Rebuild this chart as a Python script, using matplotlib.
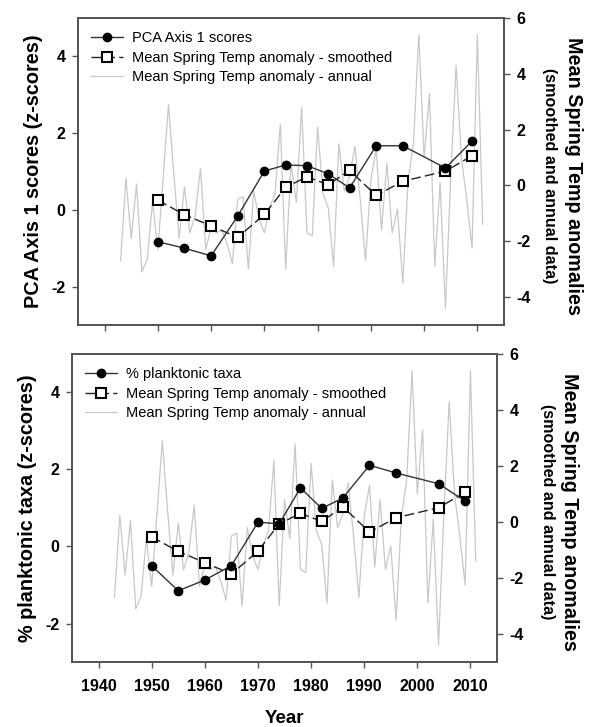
import numpy as np
import matplotlib
matplotlib.use("Agg")
import matplotlib.pyplot as plt
from matplotlib.lines import Line2D

plt.rcParams['font.family'] = ['Liberation Sans', 'DejaVu Sans']
plt.rcParams['axes.unicode_minus'] = False

# sample years for the sediment proxies and smoothed temperature
sample_years = [1950, 1955, 1960, 1965, 1970, 1974, 1978, 1982, 1986, 1991, 1996, 2004, 2009]
pca_scores = [-0.83, -1.0, -1.2, -0.16, 1.01, 1.17, 1.15, 0.94, 0.57, 1.67, 1.67, 1.09, 1.79]
planktonic = [-0.50, -1.15, -0.87, -0.50, 0.63, 0.59, 1.52, 0.99, 1.26, 2.11, 1.91, 1.63, 1.18]
temp_smoothed = [-0.53, -1.05, -1.45, -1.86, -1.04, -0.07, 0.31, 0.02, 0.54, -0.36, 0.15, 0.51, 1.06]

# annual spring temperature anomaly, 1943-2011
annual_years = list(range(1943, 2012))
temp_annual = [
    -2.7, 0.25, -1.9, 0.05, -3.1, -2.65, -0.6,                     # 1943-1949
    -2.3, 0.3, 2.9, 0.4, -1.9, -0.05, -1.7, -1.1, 0.6, -2.3,       # 1950-1959
    -1.5, -1.7, -1.6, -2.1, -2.8, -0.5, -0.4, -3.0, -0.2, -1.2,    # 1960-1969
    -1.7, -0.8, -0.3, 2.2, -3.0, 0.8, -0.6, 2.8, -1.7, -1.8,       # 1970-1979
    2.1, -0.3, -0.8, -2.9, 1.5, -0.2, 0.3, 1.4, -0.5, -2.7,        # 1980-1989
    0.2, 1.3, -1.6, 0.8, -1.7, -0.85, -3.5, 0.2, 1.5, 5.4,         # 1990-1999
    1.0, 3.3, -2.9, 0.1, -4.4, 0.3, 4.3, 1.0, -0.5, -2.25,         # 2000-2009
    5.4, -1.4,                                                     # 2010-2011
]

xticks = [1940, 1950, 1960, 1970, 1980, 1990, 2000, 2010]
left_ticks = [-2, 0, 2, 4]
right_ticks = [-4, -2, 0, 2, 4, 6]

spine_col = '#555555'
W, H = 593, 727

fig = plt.figure(figsize=(W / 100, H / 100), dpi=100)


def make_panel(rect, proxy, proxy_label, ylabel, show_xlabels, rlab_x):
    ax = fig.add_axes(rect)
    ax2 = ax.twinx()

    ax2.plot(annual_years, temp_annual, color='#c8c8c8', lw=0.9)
    ax2.plot(sample_years, temp_smoothed, color='#222222', lw=1.0,
             ls=(0, (7, 3)), marker='s', ms=7, mfc='white', mec='black', mew=1.5)
    ax.plot(sample_years, proxy, color='#333333', lw=1.0,
            marker='o', ms=6, mfc='black', mec='black')

    ax.set_zorder(ax2.get_zorder() + 1)
    ax.patch.set_visible(False)

    ax.set_xlim(1935, 2015)
    ax.set_ylim(-3, 5)
    ax2.set_ylim(-5, 6)
    ax.set_xticks(xticks)
    ax.set_yticks(left_ticks)
    ax2.set_yticks(right_ticks)

    for a in (ax, ax2):
        for s in a.spines.values():
            s.set_color(spine_col)
            s.set_linewidth(1.3)
        a.tick_params(direction='out', length=4, width=1.0, color=spine_col, pad=5)
        for lab in a.get_yticklabels():
            lab.set_fontsize(11.5)
            lab.set_fontweight('bold')

    if show_xlabels:
        ax.tick_params(axis='x', pad=8)
        ax.set_xticklabels([str(t) for t in xticks], fontsize=11.5, fontweight='bold')
        ax.set_xlabel('Year', fontsize=13.5, fontweight='bold', labelpad=12)
    else:
        ax.set_xticklabels([])

    ax.set_ylabel(ylabel, fontsize=14.3, fontweight='bold', labelpad=6)

    # two-line right axis title, the second line is smaller
    yc = rect[1] + rect[3] / 2 - 4 / H
    fig.text(rlab_x[0] / W, yc, 'Mean Spring Temp anomalies', rotation=270,
             ha='center', va='center', fontsize=14.2, fontweight='bold')
    fig.text(rlab_x[1] / W, yc, '(smoothed and annual data)', rotation=270,
             ha='center', va='center', fontsize=11.6, fontweight='bold')

    handles = [
        Line2D([], [], color='#333333', lw=1.0, marker='o', ms=6, mfc='black', mec='black'),
        Line2D([], [], color='#222222', lw=1.0, ls=(0, (7, 3)), marker='s', ms=7,
               mfc='white', mec='black', mew=1.5),
        Line2D([], [], color='#c8c8c8', lw=0.9),
    ]
    labels = [proxy_label, 'Mean Spring Temp anomaly - smoothed',
              'Mean Spring Temp anomaly - annual']
    ax.legend(handles, labels, loc='upper left', frameon=False, fontsize=10.5,
              handlelength=2.2, handletextpad=0.6, labelspacing=0.38,
              borderaxespad=0.5, bbox_to_anchor=(0.0, 1.0))
    return ax


make_panel([0.1315, 0.5530, 0.7184, 0.4223], pca_scores, 'PCA Axis 1 scores',
           'PCA Axis 1 scores (z-scores)', False, (573, 549))
make_panel([0.1214, 0.0894, 0.7167, 0.4237], planktonic, '% planktonic taxa',
           '% planktonic taxa (z-scores)', True, (570, 548))

fig.savefig('out.png', dpi=100)
